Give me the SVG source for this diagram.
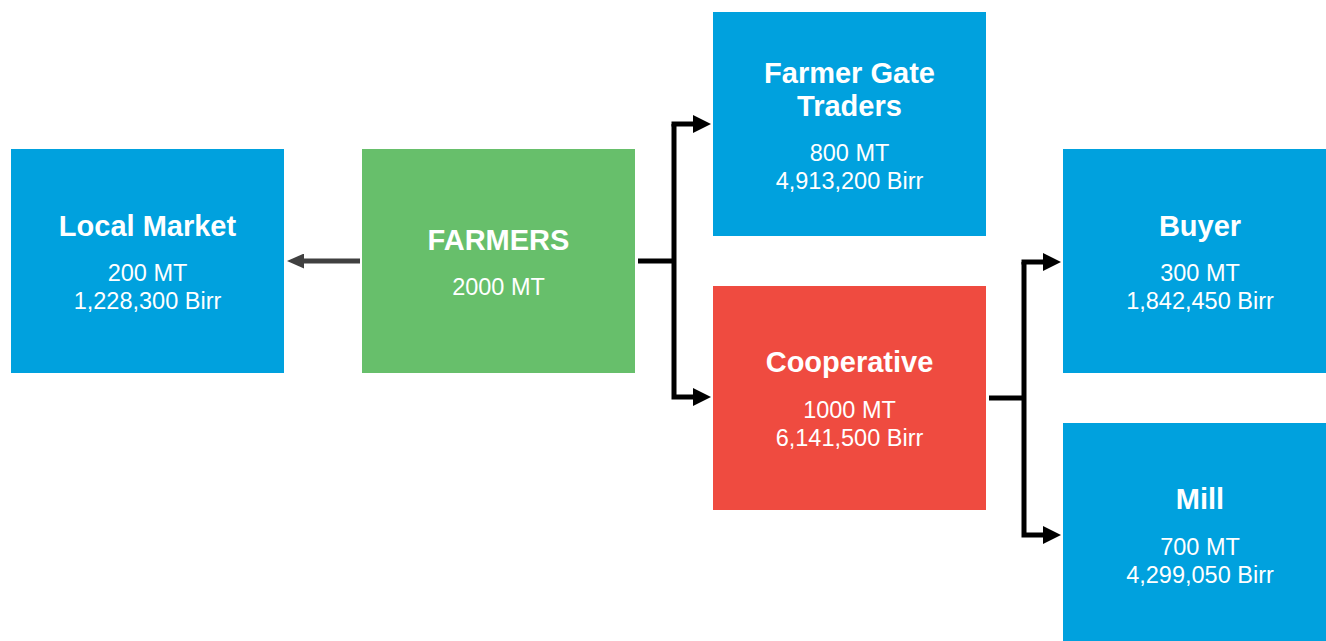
<svg xmlns="http://www.w3.org/2000/svg" width="1326" height="641" viewBox="0 0 1326 641">
  <defs>
    <style>
      .blue { fill: #00A1DE; }
      .green { fill: #67BF6B; }
      .red { fill: #EF4B40; }
      .title { font-family: "Liberation Sans", Arimo, Arial, sans-serif; font-weight: bold; font-size: 29px; fill: #FFFFFF; text-anchor: middle; }
      .body { font-family: "Liberation Sans", Arimo, Arial, sans-serif; font-size: 23.5px; fill: #FFFFFF; text-anchor: middle; }
      .link { fill: none; stroke: #000000; stroke-width: 5; }
      .back { fill: none; stroke: #404040; stroke-width: 5; }
    </style>
    <!-- arrowheads sit beyond the line end (refX=0) so the stroke never shows past the tip -->
    <marker id="head" viewBox="0 0 18 18" refX="0" refY="9" markerWidth="18" markerHeight="18" markerUnits="userSpaceOnUse" orient="auto">
      <path d="M0,0 L18,9 L0,18 Z" fill="#000000"/>
    </marker>
    <marker id="headGray" viewBox="0 0 17 15" refX="0" refY="7.5" markerWidth="17" markerHeight="15" markerUnits="userSpaceOnUse" orient="auto">
      <path d="M0,0 L17,7.5 L0,15 Z" fill="#404040"/>
    </marker>
  </defs>

  <!-- connectors -->
  <g id="connectors">
    <path class="back" d="M360,261 H304" marker-end="url(#headGray)"/>
    <path class="link" d="M638,261 H674"/>
    <path class="link" d="M674,124 V397 H693" marker-end="url(#head)"/>
    <path class="link" d="M671.5,124 H693" marker-end="url(#head)"/>
    <path class="link" d="M989,398 H1024"/>
    <path class="link" d="M1024,262 V535 H1043" marker-end="url(#head)"/>
    <path class="link" d="M1021.5,262 H1043" marker-end="url(#head)"/>
  </g>

  <g id="local-market">
    <rect class="blue" x="11" y="149" width="273" height="224"/>
    <text class="title" x="147.5" y="236">Local Market</text>
    <text class="body" x="147.5" y="281">200 MT</text>
    <text class="body" x="147.5" y="309">1,228,300 Birr</text>
  </g>

  <g id="farmers">
    <rect class="green" x="362" y="149" width="273" height="224"/>
    <text class="title" x="498.5" y="250">FARMERS</text>
    <text class="body" x="498.5" y="295">2000 MT</text>
  </g>

  <g id="farmer-gate-traders">
    <rect class="blue" x="713" y="12" width="273" height="224"/>
    <text class="title" x="849.5" y="83">Farmer Gate</text>
    <text class="title" x="849.5" y="116">Traders</text>
    <text class="body" x="849.5" y="161">800 MT</text>
    <text class="body" x="849.5" y="189">4,913,200 Birr</text>
  </g>

  <g id="cooperative">
    <rect class="red" x="713" y="286" width="273" height="224"/>
    <text class="title" x="849.5" y="372">Cooperative</text>
    <text class="body" x="849.5" y="418">1000 MT</text>
    <text class="body" x="849.5" y="446">6,141,500 Birr</text>
  </g>

  <g id="buyer">
    <rect class="blue" x="1063" y="149" width="273" height="224"/>
    <text class="title" x="1200" y="236">Buyer</text>
    <text class="body" x="1200" y="281">300 MT</text>
    <text class="body" x="1200" y="309">1,842,450 Birr</text>
  </g>

  <g id="mill">
    <rect class="blue" x="1063" y="423" width="273" height="224"/>
    <text class="title" x="1200" y="509">Mill</text>
    <text class="body" x="1200" y="555">700 MT</text>
    <text class="body" x="1200" y="583">4,299,050 Birr</text>
  </g>
</svg>
